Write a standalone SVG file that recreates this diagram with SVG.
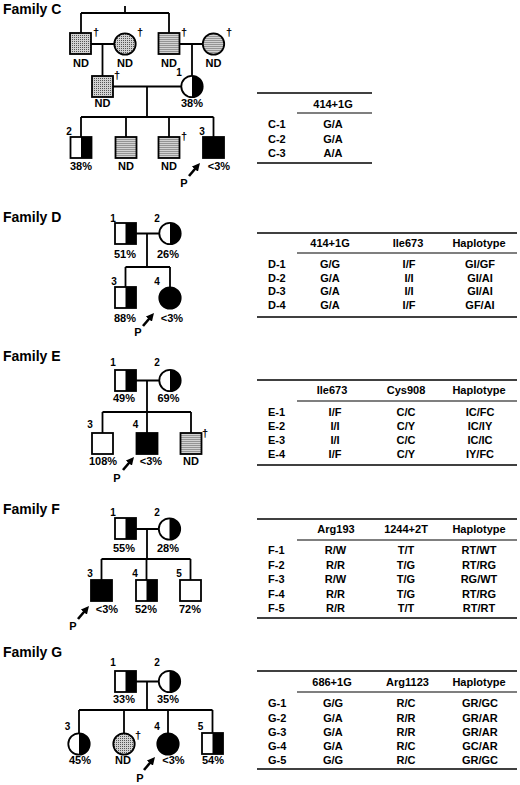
<svg xmlns="http://www.w3.org/2000/svg" width="520" height="785" viewBox="0 0 520 785">
<defs>
<pattern id="stip" width="2" height="2" patternUnits="userSpaceOnUse"><rect width="2" height="2" fill="#d2d2d2"/><rect width="1" height="1" fill="#555"/></pattern>
<marker id="ah" viewBox="0 0 10 10" refX="1" refY="5" markerWidth="8" markerHeight="8" markerUnits="userSpaceOnUse" orient="auto"><path d="M0,0 L10,5 L0,10 Z" fill="#000"/></marker>
<g id="hsq"><rect width="21" height="21" fill="#fff"/><rect x="10.5" width="10.5" height="21" fill="#000"/><rect width="21" height="21" fill="none" stroke="#000" stroke-width="1.8"/></g>
<g id="bsq"><rect width="21" height="21" fill="#000" stroke="#000" stroke-width="1.8"/></g>
<g id="wsq"><rect width="21" height="21" fill="#fff" stroke="#000" stroke-width="1.8"/></g>
<g id="dsq"><rect width="21" height="21" fill="url(#stip)" stroke="#000" stroke-width="1.8"/></g>
<g id="hci"><circle r="10.7" fill="#fff"/><path d="M0,-10.7 A10.7,10.7 0 0 1 0,10.7 Z" fill="#000"/><circle r="10.7" fill="none" stroke="#000" stroke-width="1.8"/></g>
<g id="bci"><circle r="10.7" fill="#000" stroke="#000" stroke-width="1.8"/></g>
<g id="dci"><circle r="10.7" fill="url(#stip)" stroke="#000" stroke-width="1.8"/></g>
</defs>
<style>
.ln{stroke:#000;stroke-width:1.8;fill:none}
text{font-family:"Liberation Sans",Arial,Helvetica,sans-serif;font-weight:bold;fill:#000}
.lb{font-size:11px;text-anchor:middle}
.n{font-size:10px;text-anchor:middle}
.dg{font-size:11px}
.ti{font-size:14px}
.tb{font-size:11px;text-anchor:middle}
.tr{font-size:11px}
.rule{stroke:#000;stroke-width:1.6}
.rule2{stroke:#000;stroke-width:1.2}
.arr{stroke:#000;stroke-width:2.6;marker-end:url(#ah)}
</style>
<rect width="520" height="785" fill="#fff"/>

<g id="connectors">
<!-- Family C -->
<path class="ln" d="M81,13 H169 M125,6 V13 M81,13 V33 M169,13 V33"/>
<path class="ln" d="M91,44 H114.3 M102.5,44 V76"/>
<path class="ln" d="M179.5,44 H202.8 M192,44 V75.8"/>
<path class="ln" d="M113,86.5 H181.3 M147,86.5 V117"/>
<path class="ln" d="M81,117 H213.5 M81,117 V137 M126,117 V137 M169,117 V137 M213.5,117 V137"/>
<line class="arr" x1="189" y1="176" x2="195.35" y2="168.5"/>
<!-- Family D -->
<path class="ln" d="M136,233.5 H159.3 M147,233.5 V267 M125.5,267 H170 M125.5,267 V287 M170,267 V287.3"/>
<line class="arr" x1="143" y1="326" x2="149.35" y2="318.5"/>
<!-- Family E -->
<path class="ln" d="M136,380.5 H159.3 M147,380.5 V412 M102.5,412 H191 M102.5,412 V433 M147,412 V433 M191,412 V433"/>
<line class="arr" x1="123" y1="470" x2="129.35" y2="462.5"/>
<!-- Family F -->
<path class="ln" d="M136,529 H158.8 M147,529 V559 M101.5,559 H190.5 M101.5,559 V580 M146.5,559 V580 M190.5,559 V580"/>
<line class="arr" x1="78" y1="619" x2="84.35" y2="611.5"/>
<!-- Family G -->
<path class="ln" d="M136,681.5 H158.8 M147,681.5 V710 M79,710 H212.5 M79,710 V733.3 M124,710 V733.3 M168,710 V733.3 M212.5,710 V733"/>
<line class="arr" x1="144" y1="770" x2="150.35" y2="762.5"/>
</g>

<!-- ===== Family C ===== -->
<text class="ti" x="3" y="14">Family C</text>
<g id="c-gf1"><use href="#dsq" x="70" y="33"/><text class="dg" x="93" y="36">†</text><text class="lb" x="81" y="67">ND</text></g>
<g id="c-gm1"><use href="#dci" x="125" y="44"/><text class="dg" x="137" y="36">†</text><text class="lb" x="125" y="67">ND</text></g>
<g id="c-gf2"><use href="#dsq" x="158.5" y="33"/><text class="dg" x="181" y="36">†</text><text class="lb" x="169" y="67">ND</text></g>
<g id="c-gm2"><use href="#dci" x="213.5" y="44"/><text class="dg" x="226" y="36">†</text><text class="lb" x="213.5" y="67">ND</text></g>
<g id="c-f"><use href="#dsq" x="92" y="76"/><text class="dg" x="114" y="79">†</text><text class="lb" x="102.5" y="107">ND</text></g>
<g id="c-1"><use href="#hci" x="192" y="86.5"/><text class="n" x="179" y="76">1</text><text class="lb" x="192" y="107">38%</text></g>
<g id="c-2"><use href="#hsq" x="70.5" y="137"/><text class="n" x="69" y="135">2</text><text class="lb" x="81" y="170">38%</text></g>
<g id="c-s2"><use href="#dsq" x="115.5" y="137"/><text class="lb" x="126" y="170">ND</text></g>
<g id="c-s3"><use href="#dsq" x="158.5" y="137"/><text class="dg" x="181" y="140">†</text><text class="lb" x="169" y="170">ND</text></g>
<g id="c-3"><use href="#bsq" x="203" y="137"/><text class="n" x="202" y="135">3</text><text class="lb" x="219" y="170">&lt;3%</text><text class="lb" x="184" y="187">P</text></g>

<g id="table-c">
<line class="rule" x1="257" y1="93" x2="372" y2="93"/>
<line class="rule2" x1="297" y1="113" x2="372" y2="113"/>
<line class="rule" x1="257" y1="163" x2="372" y2="163"/>
<text class="tb" x="333" y="108">414+1G</text>
<text class="tr" x="268" y="128">C-1</text><text class="tb" x="333" y="128">G/A</text>
<text class="tr" x="268" y="143">C-2</text><text class="tb" x="333" y="143">G/A</text>
<text class="tr" x="268" y="157">C-3</text><text class="tb" x="333" y="157">A/A</text>
</g>

<!-- ===== Family D ===== -->
<text class="ti" x="3" y="222">Family D</text>
<g id="d-1"><use href="#hsq" x="115" y="223"/><text class="n" x="113" y="222">1</text><text class="lb" x="125" y="258">51%</text></g>
<g id="d-2"><use href="#hci" x="170" y="233.5"/><text class="n" x="157" y="222">2</text><text class="lb" x="168" y="258">26%</text></g>
<g id="d-3"><use href="#hsq" x="115" y="287"/><text class="n" x="114" y="285">3</text><text class="lb" x="125" y="322">88%</text></g>
<g id="d-4"><use href="#bci" x="170" y="298"/><text class="n" x="157" y="285">4</text><text class="lb" x="172" y="322">&lt;3%</text><text class="lb" x="138" y="336">P</text></g>

<g id="table-d">
<line class="rule" x1="257" y1="233" x2="517" y2="233"/>
<line class="rule2" x1="297" y1="253" x2="517" y2="253"/>
<line class="rule" x1="257" y1="317" x2="517" y2="317"/>
<text class="tb" x="330" y="246.5">414+1G</text><text class="tb" x="408" y="246.5">Ile673</text><text class="tb" x="479" y="246.5">Haplotype</text>
<text class="tr" x="268" y="268">D-1</text><text class="tb" x="330" y="268">G/G</text><text class="tb" x="409" y="268">I/F</text><text class="tb" x="480" y="268">GI/GF</text>
<text class="tr" x="268" y="281.5">D-2</text><text class="tb" x="330" y="281.5">G/A</text><text class="tb" x="409" y="281.5">I/I</text><text class="tb" x="480" y="281.5">GI/AI</text>
<text class="tr" x="268" y="295">D-3</text><text class="tb" x="330" y="295">G/A</text><text class="tb" x="409" y="295">I/I</text><text class="tb" x="480" y="295">GI/AI</text>
<text class="tr" x="268" y="308.5">D-4</text><text class="tb" x="330" y="308.5">G/A</text><text class="tb" x="409" y="308.5">I/F</text><text class="tb" x="480" y="308.5">GF/AI</text>
</g>

<!-- ===== Family E ===== -->
<text class="ti" x="3" y="361">Family E</text>
<g id="e-1"><use href="#hsq" x="115" y="370"/><text class="n" x="113" y="366">1</text><text class="lb" x="124" y="402">49%</text></g>
<g id="e-2"><use href="#hci" x="170" y="380.5"/><text class="n" x="157" y="366">2</text><text class="lb" x="168.5" y="402">69%</text></g>
<g id="e-3"><use href="#wsq" x="92" y="433"/><text class="n" x="90" y="428">3</text><text class="lb" x="103" y="465">108%</text></g>
<g id="e-4"><use href="#bsq" x="136.5" y="433"/><text class="n" x="135.5" y="428">4</text><text class="lb" x="151" y="465">&lt;3%</text><text class="lb" x="117" y="482">P</text></g>
<g id="e-5"><use href="#dsq" x="180.5" y="433"/><text class="dg" x="202" y="437">†</text><text class="lb" x="191" y="465">ND</text></g>

<g id="table-e">
<line class="rule" x1="257" y1="380" x2="517" y2="380"/>
<line class="rule2" x1="297" y1="401" x2="517" y2="401"/>
<line class="rule" x1="257" y1="465" x2="517" y2="465"/>
<text class="tb" x="332" y="394">Ile673</text><text class="tb" x="406" y="394">Cys908</text><text class="tb" x="479" y="394">Haplotype</text>
<text class="tr" x="268" y="416">E-1</text><text class="tb" x="335" y="416">I/F</text><text class="tb" x="406" y="416">C/C</text><text class="tb" x="480" y="416">IC/FC</text>
<text class="tr" x="268" y="430">E-2</text><text class="tb" x="335" y="430">I/I</text><text class="tb" x="406" y="430">C/Y</text><text class="tb" x="480" y="430">IC/IY</text>
<text class="tr" x="268" y="444">E-3</text><text class="tb" x="335" y="444">I/I</text><text class="tb" x="406" y="444">C/C</text><text class="tb" x="480" y="444">IC/IC</text>
<text class="tr" x="268" y="458">E-4</text><text class="tb" x="335" y="458">I/F</text><text class="tb" x="406" y="458">C/Y</text><text class="tb" x="480" y="458">IY/FC</text>
</g>

<!-- ===== Family F ===== -->
<text class="ti" x="3" y="514">Family F</text>
<g id="f-1"><use href="#hsq" x="115" y="518"/><text class="n" x="113" y="516">1</text><text class="lb" x="124" y="552">55%</text></g>
<g id="f-2"><use href="#hci" x="169.5" y="529"/><text class="n" x="157" y="516">2</text><text class="lb" x="168" y="552">28%</text></g>
<g id="f-3"><use href="#bsq" x="91" y="580"/><text class="n" x="90" y="577">3</text><text class="lb" x="107" y="613">&lt;3%</text><text class="lb" x="73" y="630">P</text></g>
<g id="f-4"><use href="#hsq" x="136" y="580"/><text class="n" x="135" y="577">4</text><text class="lb" x="146" y="613">52%</text></g>
<g id="f-5"><use href="#wsq" x="180" y="580"/><text class="n" x="179" y="577">5</text><text class="lb" x="190" y="613">72%</text></g>

<g id="table-f">
<line class="rule" x1="257" y1="519" x2="517" y2="519"/>
<line class="rule2" x1="297" y1="540" x2="517" y2="540"/>
<line class="rule" x1="257" y1="618" x2="517" y2="618"/>
<text class="tb" x="336" y="533">Arg193</text><text class="tb" x="406" y="533">1244+2T</text><text class="tb" x="479" y="533">Haplotype</text>
<text class="tr" x="268" y="554">F-1</text><text class="tb" x="335.5" y="554">R/W</text><text class="tb" x="406" y="554">T/T</text><text class="tb" x="479" y="554">RT/WT</text>
<text class="tr" x="268" y="569">F-2</text><text class="tb" x="335.5" y="569">R/R</text><text class="tb" x="406" y="569">T/G</text><text class="tb" x="479" y="569">RT/RG</text>
<text class="tr" x="268" y="583">F-3</text><text class="tb" x="335.5" y="583">R/W</text><text class="tb" x="406" y="583">T/G</text><text class="tb" x="479" y="583">RG/WT</text>
<text class="tr" x="268" y="598">F-4</text><text class="tb" x="335.5" y="598">R/R</text><text class="tb" x="406" y="598">T/G</text><text class="tb" x="479" y="598">RT/RG</text>
<text class="tr" x="268" y="612">F-5</text><text class="tb" x="335.5" y="612">R/R</text><text class="tb" x="406" y="612">T/T</text><text class="tb" x="479" y="612">RT/RT</text>
</g>

<!-- ===== Family G ===== -->
<text class="ti" x="3" y="657">Family G</text>
<g id="g-1"><use href="#hsq" x="115" y="671"/><text class="n" x="113" y="666">1</text><text class="lb" x="124" y="703">33%</text></g>
<g id="g-2"><use href="#hci" x="169.5" y="681.5"/><text class="n" x="157" y="666">2</text><text class="lb" x="168" y="703">35%</text></g>
<g id="g-3"><use href="#hci" x="79" y="744"/><text class="n" x="67.5" y="730">3</text><text class="lb" x="80" y="764">45%</text></g>
<g id="g-nd"><use href="#dci" x="124" y="744"/><text class="dg" x="135" y="739">†</text><text class="lb" x="123" y="764">ND</text></g>
<g id="g-4"><use href="#bci" x="168" y="744"/><text class="n" x="157" y="730">4</text><text class="lb" x="173.5" y="764">&lt;3%</text><text class="lb" x="140" y="782">P</text></g>
<g id="g-5"><use href="#hsq" x="202" y="733"/><text class="n" x="200.5" y="730">5</text><text class="lb" x="213" y="764">54%</text></g>

<g id="table-g">
<line class="rule" x1="257" y1="671" x2="517" y2="671"/>
<line class="rule2" x1="297" y1="692" x2="517" y2="692"/>
<line class="rule" x1="257" y1="769" x2="517" y2="769"/>
<text class="tb" x="332" y="685.5">686+1G</text><text class="tb" x="407.5" y="685.5">Arg1123</text><text class="tb" x="479" y="685.5">Haplotype</text>
<text class="tr" x="268" y="707">G-1</text><text class="tb" x="333" y="707">G/G</text><text class="tb" x="406" y="707">R/C</text><text class="tb" x="480" y="707">GR/GC</text>
<text class="tr" x="268" y="721.5">G-2</text><text class="tb" x="333" y="721.5">G/A</text><text class="tb" x="406" y="721.5">R/R</text><text class="tb" x="480" y="721.5">GR/AR</text>
<text class="tr" x="268" y="736">G-3</text><text class="tb" x="333" y="736">G/A</text><text class="tb" x="406" y="736">R/R</text><text class="tb" x="480" y="736">GR/AR</text>
<text class="tr" x="268" y="750">G-4</text><text class="tb" x="333" y="750">G/A</text><text class="tb" x="406" y="750">R/C</text><text class="tb" x="480" y="750">GC/AR</text>
<text class="tr" x="268" y="764">G-5</text><text class="tb" x="333" y="764">G/G</text><text class="tb" x="406" y="764">R/C</text><text class="tb" x="480" y="764">GR/GC</text>
</g>
</svg>
